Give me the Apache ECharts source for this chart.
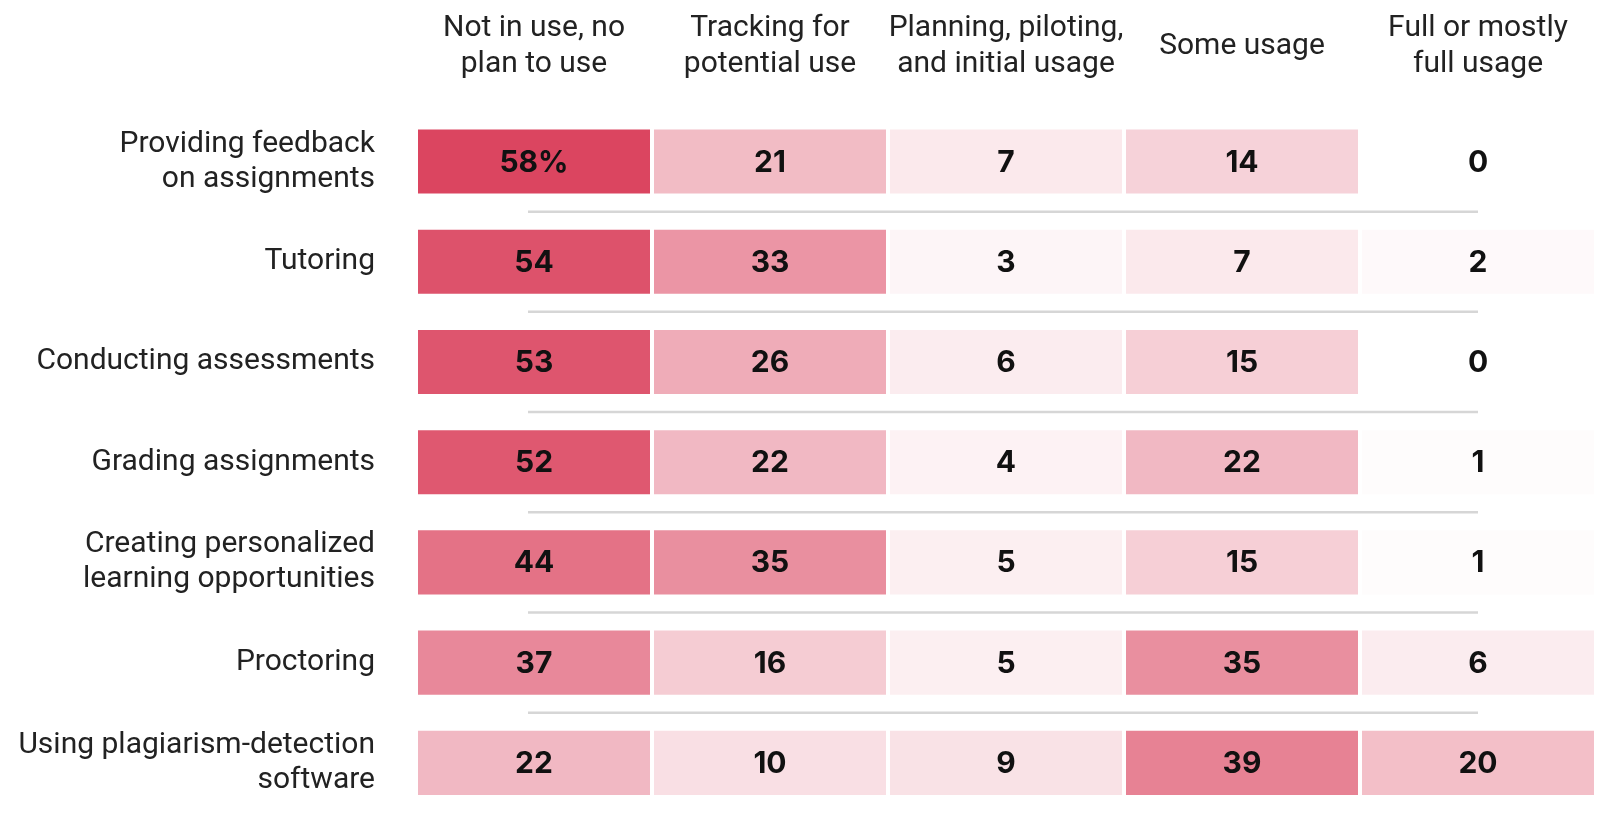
<!DOCTYPE html>
<html>
<head>
<meta charset="utf-8">
<script src="https://cdn.jsdelivr.net/npm/echarts@6/dist/echarts.min.js"></script>
<style>
  html, body { margin: 0; padding: 0; background: #ffffff; }
  #chart { width: 1608px; height: 814px; }
</style>
</head>
<body>
<div id="chart"></div>
<script>
// ---- Data ----
const categories = [
  "Providing feedback\non assignments",
  "Tutoring",
  "Conducting assessments",
  "Grading assignments",
  "Creating personalized\nlearning opportunities",
  "Proctoring",
  "Using plagiarism-detection\nsoftware"
];
const columns = [
  "Not in use, no\nplan to use",
  "Tracking for\npotential use",
  "Planning, piloting,\nand initial usage",
  "Some usage",
  "Full or mostly\nfull usage"
];
const notInUse  = [58, 54, 53, 52, 44, 37, 22];
const tracking  = [21, 33, 26, 22, 35, 16, 10];
const planning  = [7, 3, 6, 4, 5, 5, 9];
const someUsage = [14, 7, 15, 22, 15, 35, 39];
const fullUsage = [0, 2, 0, 1, 1, 6, 20];

const seriesValues = [notInUse, tracking, planning, someUsage, fullUsage];
const cellData = [];
seriesValues.forEach((vals, c) => {
  vals.forEach((v, r) => cellData.push([c, r, v]));
});
const separatorData = categories.slice(0, -1).map((_, r) => [0, r]);

const chart = echarts.init(document.getElementById('chart'), null, { renderer: 'canvas' });

const textColor = '#222222';
const labelFont = 'Roboto, "Noto Sans", sans-serif';

chart.setOption({
  animation: false,
  backgroundColor: '#ffffff',
  grid: { left: 416, right: 12, top: 111.4, bottom: 1, containLabel: false },
  xAxis: {
    type: 'category',
    position: 'top',
    data: columns,
    axisLine: { show: false },
    axisTick: { show: false },
    splitLine: { show: false },
    axisLabel: {
      interval: 0,
      fontFamily: labelFont,
      fontSize: 30,
      lineHeight: 36,
      color: textColor,
      align: 'center',
      verticalAlign: 'middle',
      margin: 65
    }
  },
  yAxis: {
    type: 'category',
    inverse: true,
    data: categories,
    axisLine: { show: false },
    axisTick: { show: false },
    splitLine: { show: false },
    axisLabel: {
      interval: 0,
      fontFamily: labelFont,
      fontSize: 30,
      lineHeight: 35,
      color: textColor,
      align: 'right',
      padding: [12, 0, 0, 0],
      margin: 41
    }
  },
  visualMap: {
    show: false,
    type: 'continuous',
    seriesIndex: 0,
    dimension: 2,
    min: 0,
    max: 58,
    inRange: { color: ['#ffffff', '#DB4560'] }
  },
  series: [
    {
      type: 'custom',
      coordinateSystem: 'cartesian2d',
      dimensions: ['col', 'row', 'value'],
      encode: { x: 0, y: 1 },
      data: cellData,
      renderItem: function (params, api) {
        const col = api.value(0), row = api.value(1), v = api.value(2);
        const c = api.coord([col, row]);
        const s = api.size([1, 1]);
        const w = s[0] - 4;
        const h = s[1] * 0.64;
        const txt = (col === 0 && row === 0) ? v + '%' : String(v);
        return {
          type: 'group',
          children: [
            {
              type: 'rect',
              shape: { x: c[0] - w / 2, y: c[1] - h / 2, width: w, height: h },
              style: { fill: api.visual('color') }
            },
            {
              type: 'text',
              style: {
                text: txt,
                x: c[0],
                y: c[1] + 1,
                align: 'center',
                verticalAlign: 'middle',
                font: '700 30px Inter, Roboto, sans-serif',
                fill: '#111111'
              }
            }
          ]
        };
      }
    },
    {
      type: 'custom',
      coordinateSystem: 'cartesian2d',
      encode: { x: 0, y: 1 },
      data: separatorData,
      silent: true,
      renderItem: function (params, api) {
        const row = api.value(1);
        const a = api.coord([0, row]);
        const b = api.coord([columns.length - 1, row]);
        const s = api.size([1, 1]);
        const y = a[1] + s[1] / 2;
        return {
          type: 'line',
          shape: { x1: a[0] - 6, y1: y, x2: b[0], y2: y },
          style: { stroke: '#d6d6d6', lineWidth: 2.5 }
        };
      }
    }
  ]
});
</script>
</body>
</html>
